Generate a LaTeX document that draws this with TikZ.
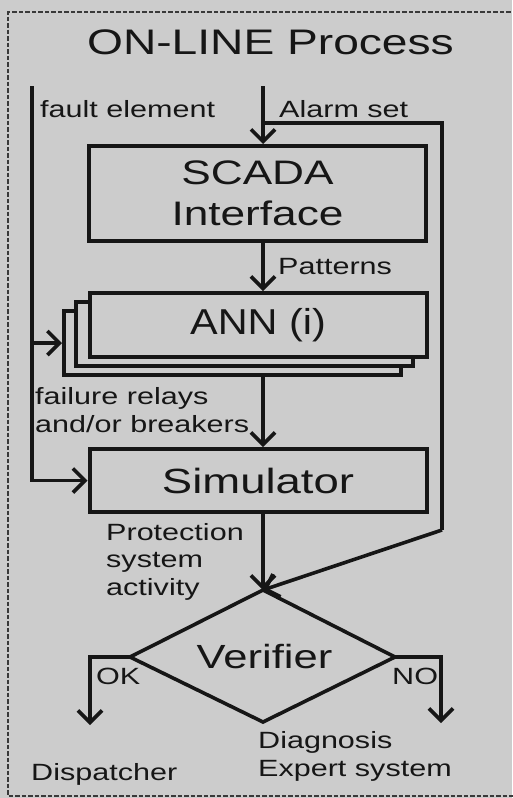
\documentclass[tikz,border=0pt]{standalone}
\usepackage{fontspec}
\setmainfont{Liberation Sans}[FakeStretch=1.3]
\newfontfamily\widefont{Liberation Sans}[FakeStretch=1.15]
\usetikzlibrary{arrows.meta}
\definecolor{paper}{RGB}{204,204,204}
\definecolor{ink}{RGB}{22,22,22}

\begin{document}
\begin{tikzpicture}[x=1pt,y=-1pt,
  wire/.style={draw=ink, line width=3.6pt},
  flow/.style={wire, -{Straight Barb[length=12pt,width=24pt,line width=3.6pt]}},
  box/.style={draw=ink, line width=4pt, fill=paper, minimum width=337pt,
              inner sep=0pt, text=ink, align=center,
              font=\fontsize{34}{41}\selectfont},
  lbl/.style={font=\fontsize{23.5}{27.5}\selectfont, text=ink,
              inner sep=0pt, align=left, anchor=base west},
  frame/.style={draw=ink!85, line width=1.6pt, dash pattern=on 4.5pt off 2pt}
]
% page and paper
\useasboundingbox (0,0) rectangle (512,798);
\fill[paper] (0,0) rectangle (512,798);
\draw[frame] (530,12) -- (8,12) -- (8,796) -- (530,796);

% title
\node[font=\fontsize{35.5}{40}\selectfont, text=ink, anchor=base,
      inner sep=0pt] (title) at (270.5,54) {ON-LINE Process};

% processing blocks
\node[box, minimum height=95pt] (scada) at (257.5,193.5) {SCADA\\Interface};
\node[box, minimum height=64pt] (ann3) at (232.5,343) {};
\node[box, minimum height=64pt] (ann2) at (244.5,334) {};
\node[box, minimum height=64pt, font=\widefont\fontsize{36}{40}\selectfont]
      (ann) at (258,325) {ANN (i)};
\node[box, minimum height=63pt, font=\fontsize{35}{40}\selectfont]
      (sim) at (258,480.5) {Simulator};

% verifier decision
\coordinate (vtop) at (263,590);
\coordinate (vright) at (395,657);
\coordinate (vbot) at (263,722);
\coordinate (vleft) at (130,657);
\draw[wire, line join=miter] (vtop) -- (vright) -- (vbot) -- (vleft) -- cycle;
\node[text=ink, inner sep=0pt, anchor=base, font=\fontsize{33.5}{40}\selectfont]
      (verifier) at (264.5,668) {Verifier};

% inputs
\coordinate (ftop) at (32,86);
\coordinate (atop) at (263,86);
\coordinate (abr) at (263,123);
\coordinate (rcorner) at (442,530);
\coordinate (okend) at (90,725);
\coordinate (noend) at (441,723);

% connectors
\draw[flow] (atop) -- (atop |- scada.north);
\draw[wire] (abr) -| (rcorner);
\draw[flow] (rcorner) -- (vtop);
\draw[flow] (scada.south -| atop) -- (ann.north -| atop);
\draw[flow] (ann3.south -| atop) -- (sim.north -| atop);
\draw[flow] (sim.south -| atop) -- (vtop);
\draw[flow] (ftop) |- (sim.west);
\draw[flow] (ftop |- ann3.west) -- (ann3.west);
\draw[flow] (vleft) -| (okend);
\draw[flow] (vright) -| (noend);

% labels (multi-line labels are placed by their last baseline)
\node[lbl] (lfault) at (40,117) {fault element};
\node[lbl] (lalarm) at (279,117) {Alarm set};
\node[lbl] (lpat) at (278,274) {Patterns};
\node[lbl] (lfail) at (35,432) {failure relays\\and/or breakers};
\node[lbl] (lprot) at (106,595) {Protection\\system\\activity};
\node[lbl] (lok) at (96,684) {OK};
\node[lbl] (lno) at (392,684) {NO};
\node[lbl] (ldisp) at (31,780) {Dispatcher};
\node[lbl] (ldiag) at (258,776) {Diagnosis\\Expert system};
\end{tikzpicture}
\end{document}
